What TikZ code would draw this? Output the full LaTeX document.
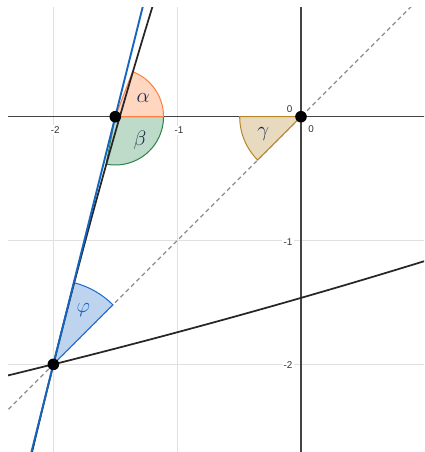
\documentclass[tikz,border=0pt]{standalone}
\usepackage{fontspec}
\setsansfont{Liberation Sans}
\usetikzlibrary{calc}
\definecolor{gridc}{RGB}{224,224,224}
\definecolor{axisc}{RGB}{68,68,68}
\definecolor{dashc}{RGB}{140,140,140}
\definecolor{bluec}{RGB}{21,101,192}
\definecolor{afill}{RGB}{255,214,192}
\definecolor{aline}{RGB}{255,128,64}
\definecolor{bfill}{RGB}{190,218,200}
\definecolor{bline}{RGB}{46,130,80}
\definecolor{gfill}{RGB}{232,218,190}
\definecolor{gline}{RGB}{184,134,40}
\definecolor{pfill}{RGB}{190,212,238}
\definecolor{pline}{RGB}{25,110,205}
\definecolor{labc}{RGB}{28,40,78}
\begin{document}
\begin{tikzpicture}[x=3cm,y=3cm,
  gridline/.style={draw=gridc,line width=0.8pt},
  axisline/.style={draw=axisc,line width=0.9pt},
  dashline/.style={draw=dashc,line width=0.8pt,dash pattern=on 3pt off 2.2pt},
  curveline/.style={draw=black!85,line width=1.2pt},
  tanline/.style={draw=bluec,line width=1.3pt},
  tick/.style={font=\sffamily\fontsize{6.8}{8}\selectfont,text=black!80,fill=white,inner sep=0.8pt},
  anglab/.style={font=\fontsize{15.5}{18}\selectfont,text=labc},
  dot/.style={fill=black,circle,inner sep=0pt,minimum size=8pt}]
\useasboundingbox (-2.431,-2.708) rectangle (0.9935,0.9426);
\coordinate (O) at (0,0);
\coordinate (A) at (-1.5,0);
\coordinate (B) at (-2,-2);
\begin{scope}
\clip (-2.366,-2.708) rectangle (0.9935,0.886);
% grid
\foreach \g in {-2,-1} {
  \draw[gridline] (\g,-2.8) -- (\g,1);
  \draw[gridline] (-2.5,\g) -- (1.1,\g);
}
% axes
\draw[axisline] (-2.5,0) -- (1.1,0);
\draw[axisline] (0,-2.8) -- (0,1);
% tick labels
\node[tick] (tx2) at (-1.984,-0.108) {-2};
\node[tick] (tx1) at (-0.985,-0.108) {-1};
\node[tick] (ty1) at (-0.105,-1.010) {-1};
\node[tick] (ty2) at (-0.105,-2.008) {-2};
\node[tick,fill=none] (t0a) at (-0.091,0.060) {0};
\node[tick,fill=none] (t0b) at (0.081,-0.102) {0};
% dashed y=x
\draw[dashline] ($(O)!-1.2!(B)$) -- ($(O)!1.5!(B)$);
% sectors
\filldraw[fill=bfill,draw=bline,line width=0.7pt] (A) -- ++(-101:0.39) arc[start angle=-101,end angle=0,radius=0.39] -- cycle;
\filldraw[fill=afill,draw=aline,line width=0.7pt] (A) -- ++(0:0.39) arc[start angle=0,end angle=69,radius=0.39] -- cycle;
\filldraw[fill=gfill,draw=gline,line width=0.7pt] (O) -- ++(180:0.495) arc[start angle=180,end angle=225,radius=0.495] -- cycle;
\filldraw[fill=pfill,draw=pline,line width=0.7pt] (B) -- ++(45:0.68) arc[start angle=45,end angle=75.96,radius=0.68] -- cycle;
% curves
\draw[curveline] plot[domain=-2.4:1.0,samples=60,smooth] (\x,{-2+(exp(0.07*(\x+2))-1)/0.28});
\draw[curveline] plot[domain=-2.75:0.9,samples=60,smooth] ({-2+(exp(0.07*(\x+2))-1)/0.28},\x);
% tangent
\draw[tanline] ($(B)!-0.4!(A)$) -- ($(B)!1.6!(A)$);
\end{scope}
% points
\node[dot] (pA) at (A) {};
\node[dot] (pB) at (B) {};
\node[dot] (pO) at (O) {};
% angle labels
\node[anglab] (la) at (-1.274,0.149) {$\alpha$};
\node[anglab] (lb) at (-1.30,-0.188) {$\beta$};
\node[anglab] (lg) at (-0.304,-0.142) {$\gamma$};
\node[anglab,text=bluec] (lp) at (-1.758,-1.561) {$\varphi$};
\end{tikzpicture}
\end{document}
